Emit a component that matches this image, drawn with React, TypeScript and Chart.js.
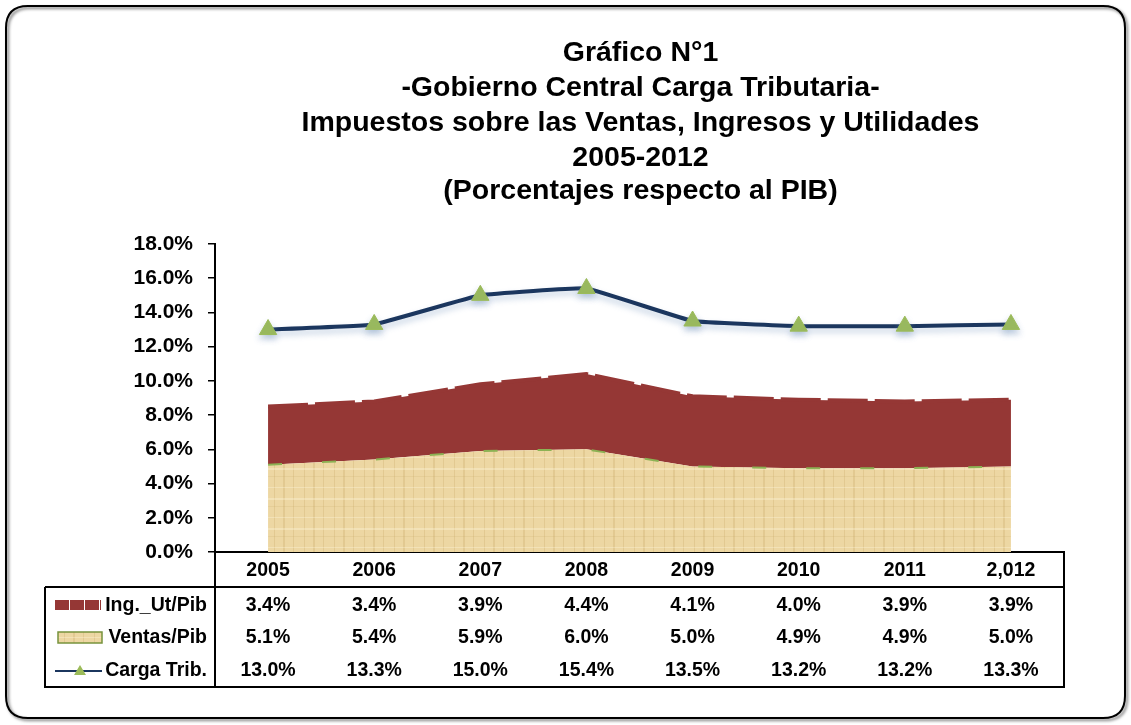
import React, { useEffect, useRef } from "react";
import { Chart, registerables } from "chart.js";

Chart.register(...registerables);

const years = ["2005", "2006", "2007", "2008", "2009", "2010", "2011", "2,012"];
const ingUtPib = [3.4, 3.4, 3.9, 4.4, 4.1, 4.0, 3.9, 3.9];
const ventasPib = [5.1, 5.4, 5.9, 6.0, 5.0, 4.9, 4.9, 5.0];
const cargaTrib = [13.0, 13.3, 15.0, 15.4, 13.5, 13.2, 13.2, 13.3];
const seriesNames = ["Ing._Ut/Pib", "Ventas/Pib", "Carga Trib."];
const yMin = 0;
const yMax = 18;
const yStep = 2;
const titleLines = [
  "Gráfico N°1",
  "-Gobierno Central Carga Tributaria-",
  "Impuestos sobre las Ventas, Ingresos y Utilidades",
  "2005-2012",
  "(Porcentajes respecto al PIB)",
];

const FONT = 'Arial, "Liberation Sans", sans-serif';
const RED = "#953735";
const GREEN = "#8CB254";
const NAVY = "#1B365E";
const TRI = "#9BBB59";

function makePapyrus(): CanvasPattern | string {
  const c = document.createElement("canvas");
  c.width = 30;
  c.height = 30;
  const g = c.getContext("2d");
  if (!g) return "#EBD49F";
  g.fillStyle = "#EDD7A3";
  g.fillRect(0, 0, 30, 30);
  g.fillStyle = "rgba(196,164,102,0.28)";
  g.fillRect(4, 0, 1, 30);
  g.fillRect(13, 0, 2, 30);
  g.fillRect(23, 0, 1, 30);
  g.fillStyle = "rgba(255,246,222,0.35)";
  g.fillRect(0, 7, 30, 1);
  g.fillRect(0, 18, 30, 2);
  g.fillStyle = "rgba(196,164,102,0.18)";
  g.fillRect(0, 26, 30, 1);
  return g.createPattern(c, "repeat") || "#EBD49F";
}

function roundRect(ctx: CanvasRenderingContext2D, x: number, y: number, w: number, h: number, r: number) {
  ctx.beginPath();
  ctx.moveTo(x + r, y);
  ctx.lineTo(x + w - r, y);
  ctx.quadraticCurveTo(x + w, y, x + w, y + r);
  ctx.lineTo(x + w, y + h - r);
  ctx.quadraticCurveTo(x + w, y + h, x + w - r, y + h);
  ctx.lineTo(x + r, y + h);
  ctx.quadraticCurveTo(x, y + h, x, y + h - r);
  ctx.lineTo(x, y + r);
  ctx.quadraticCurveTo(x, y, x + r, y);
  ctx.closePath();
}

export default function App() {
  const ref = useRef<HTMLCanvasElement>(null);

  useEffect(() => {
    const canvas = ref.current;
    if (!canvas) return;
    const papyrus = makePapyrus();

    const decor = {
      id: "decor",
      beforeDraw(chart: any) {
        const ctx: CanvasRenderingContext2D = chart.ctx;
        const W = chart.width;
        const H = chart.height;
        ctx.save();
        ctx.fillStyle = "#fff";
        ctx.fillRect(0, 0, W, H);
        ctx.shadowColor = "rgba(0,0,0,0.55)";
        ctx.shadowOffsetX = 2;
        ctx.shadowOffsetY = 2;
        ctx.shadowBlur = 3;
        roundRect(ctx, 6, 6, W - 12, H - 13, 22);
        ctx.lineWidth = 2;
        ctx.strokeStyle = "#000";
        ctx.stroke();
        ctx.restore();

        // title
        const area = chart.chartArea;
        const cx = (area.left + area.right) / 2 + 1;
        ctx.save();
        ctx.fillStyle = "#000";
        ctx.font = `bold 28.5px ${FONT}`;
        ctx.textAlign = "center";
        ctx.textBaseline = "middle";
        const ys = [53, 88, 123, 158, 191];
        titleLines.forEach((t, i) => ctx.fillText(t, cx, ys[i]));
        ctx.restore();
      },
      beforeDatasetDraw(chart: any, args: any) {
        if (args.index === 2) {
          const ctx = chart.ctx;
          ctx.save();
          ctx.shadowColor = "rgba(120,150,190,0.45)";
          ctx.shadowBlur = 6;
          ctx.shadowOffsetY = 4;
        }
      },
      afterDatasetDraw(chart: any, args: any) {
        if (args.index === 2) chart.ctx.restore();
      },
      afterDraw(chart: any) {
        const ctx: CanvasRenderingContext2D = chart.ctx;
        const xs = chart.scales.x;
        const area = chart.chartArea;
        const L = 45;
        const mid = area.left;
        const R = area.right;
        const top = area.bottom;
        const hdr = 587;
        const bot = 687;
        ctx.save();
        ctx.strokeStyle = "#000";
        ctx.lineWidth = 2;
        const line = (x1: number, y1: number, x2: number, y2: number) => {
          ctx.beginPath();
          ctx.moveTo(x1, y1);
          ctx.lineTo(x2, y2);
          ctx.stroke();
        };
        line(L, hdr, R, hdr);
        line(L - 1, bot, R + 1, bot);
        line(L, hdr, L, bot);
        line(mid, top, mid, bot);
        line(R, top, R, bot);

        ctx.fillStyle = "#000";
        ctx.textBaseline = "middle";
        ctx.textAlign = "center";
        ctx.font = `bold 19.5px ${FONT}`;
        years.forEach((y, i) => ctx.fillText(y, xs.getPixelForValue(i), 571));

        const rows = [ingUtPib, ventasPib, cargaTrib];
        const rowY = [606, 638, 671];
        rows.forEach((r, ri) => {
          r.forEach((v, i) => ctx.fillText(v.toFixed(1) + "%", xs.getPixelForValue(i), rowY[ri]));
        });

        ctx.textAlign = "right";
        ctx.font = `bold 19.5px ${FONT}`;
        seriesNames.forEach((n, i) => ctx.fillText(n, 207, rowY[i]));

        // swatches
        ctx.save();
        ctx.strokeStyle = RED;
        ctx.lineWidth = 10;
        ctx.setLineDash([14, 1]);
        line(55, rowY[0] - 1, 101, rowY[0] - 1);
        ctx.restore();

        ctx.fillStyle = papyrus as any;
        ctx.fillRect(58, rowY[1] - 6, 44, 11);
        ctx.strokeStyle = "#77933C";
        ctx.lineWidth = 1.5;
        ctx.strokeRect(58, rowY[1] - 6, 44, 11);

        ctx.strokeStyle = NAVY;
        ctx.lineWidth = 2;
        line(55, rowY[2], 102, rowY[2]);
        ctx.fillStyle = TRI;
        ctx.beginPath();
        ctx.moveTo(80, rowY[2] - 6);
        ctx.lineTo(86, rowY[2] + 4);
        ctx.lineTo(74, rowY[2] + 4);
        ctx.closePath();
        ctx.fill();
        ctx.restore();
      },
    };

    const chart = new Chart(canvas, {
      type: "line",
      data: {
        labels: years,
        datasets: [
          {
            label: seriesNames[1],
            data: ventasPib,
            stack: "areas",
            fill: "origin",
            backgroundColor: papyrus as any,
            borderColor: GREEN,
            borderWidth: 2,
            borderDash: [14, 40],
            pointRadius: 0,
            tension: 0,
          },
          {
            label: seriesNames[0],
            data: ingUtPib,
            stack: "areas",
            fill: "-1",
            backgroundColor: RED,
            borderColor: RED,
            borderWidth: 4,
            borderDash: [40, 7],
            pointRadius: 0,
            tension: 0,
          },
          {
            label: seriesNames[2],
            data: cargaTrib,
            stack: "line",
            fill: false,
            borderColor: NAVY,
            borderWidth: 4,
            pointStyle: "triangle",
            pointRadius: 10,
            pointBackgroundColor: TRI,
            pointBorderColor: TRI,
            pointBorderWidth: 1,
            tension: 0.08,
          },
        ],
      },
      options: {
        responsive: false,
        animation: false,
        layout: { padding: { left: 130, right: 67, top: 244, bottom: 173 } },
        plugins: {
          legend: { display: false },
          title: { display: false },
          tooltip: { enabled: false },
        },
        scales: {
          x: {
            offset: true,
            grid: { display: false },
            ticks: { display: false },
            border: { display: true, color: "#000", width: 2 },
            afterFit: (s: any) => {
              s.height = 0;
            },
          },
          y: {
            stacked: true,
            min: yMin,
            max: yMax,
            ticks: {
              stepSize: yStep,
              padding: 15,
              color: "#000",
              font: { family: FONT, size: 21, weight: "bold" },
              callback: (v: any) => Number(v).toFixed(1) + "%",
            },
            grid: { drawOnChartArea: false, drawTicks: true, tickLength: 7, color: "#000", lineWidth: 1.5 },
            border: { display: true, color: "#000", width: 2 },
            afterFit: (s: any) => {
              s.width = 85;
            },
          },
        },
      },
      plugins: [decor],
    });

    return () => chart.destroy();
  }, []);

  return (
    <div style={{ position: "absolute", left: 0, top: 0, width: 1131, height: 725 }}>
      <canvas ref={ref} width={1131} height={725} style={{ display: "block" }} />
    </div>
  );
}
